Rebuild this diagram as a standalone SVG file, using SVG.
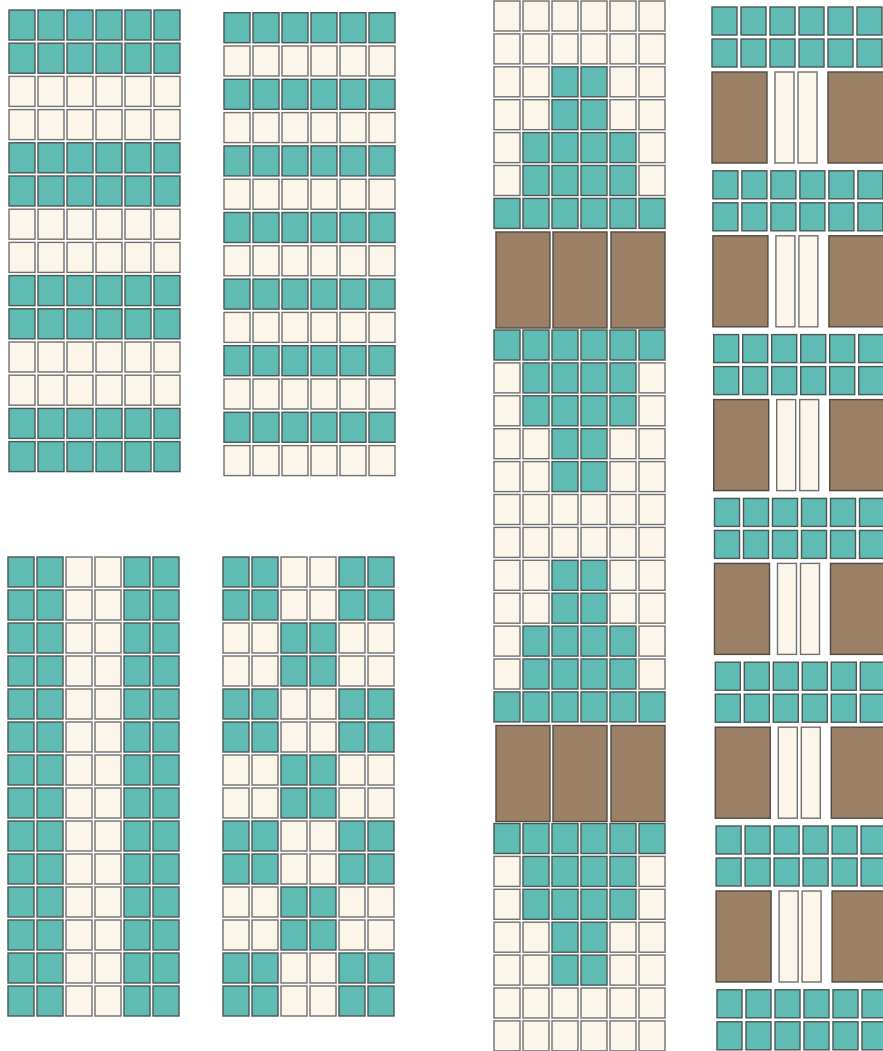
<svg xmlns="http://www.w3.org/2000/svg" xmlns:xlink="http://www.w3.org/1999/xlink" width="883" height="1051" viewBox="0 0 883 1051">
<style>
.t{fill:#5fbbb4;stroke:#4a5755;stroke-width:1.4}
.c{fill:#fcf6ea;stroke:#707070;stroke-width:1.4}
.b{fill:#9b8066;stroke:#4f4a44;stroke-width:1.4}
</style>
<defs>
<g id="T"><rect class="t" x="0" y="0" width="26" height="30"/><rect class="t" x="29" y="0" width="26" height="30"/><rect class="t" x="58" y="0" width="26" height="30"/><rect class="t" x="87" y="0" width="26" height="30"/><rect class="t" x="116" y="0" width="26" height="30"/><rect class="t" x="145" y="0" width="26" height="30"/></g>
<g id="C"><rect class="c" x="0" y="0" width="26" height="30"/><rect class="c" x="29" y="0" width="26" height="30"/><rect class="c" x="58" y="0" width="26" height="30"/><rect class="c" x="87" y="0" width="26" height="30"/><rect class="c" x="116" y="0" width="26" height="30"/><rect class="c" x="145" y="0" width="26" height="30"/></g>
<g id="A"><rect class="t" x="0" y="0" width="26" height="30"/><rect class="t" x="29" y="0" width="26" height="30"/><rect class="c" x="58" y="0" width="26" height="30"/><rect class="c" x="87" y="0" width="26" height="30"/><rect class="t" x="116" y="0" width="26" height="30"/><rect class="t" x="145" y="0" width="26" height="30"/></g>
<g id="B"><rect class="c" x="0" y="0" width="26" height="30"/><rect class="c" x="29" y="0" width="26" height="30"/><rect class="t" x="58" y="0" width="26" height="30"/><rect class="t" x="87" y="0" width="26" height="30"/><rect class="c" x="116" y="0" width="26" height="30"/><rect class="c" x="145" y="0" width="26" height="30"/></g>
<g id="D"><rect class="c" x="0" y="0" width="26" height="30"/><rect class="t" x="29" y="0" width="26" height="30"/><rect class="t" x="58" y="0" width="26" height="30"/><rect class="t" x="87" y="0" width="26" height="30"/><rect class="t" x="116" y="0" width="26" height="30"/><rect class="c" x="145" y="0" width="26" height="30"/></g>
<g id="K5"><rect class="b" x="2" y="0" width="54" height="96"/><rect class="b" x="59" y="0" width="54" height="96"/><rect class="b" x="117" y="0" width="54" height="96"/></g>
<g id="T6"><rect class="t" x="0" y="0" width="25" height="28"/><rect class="t" x="29" y="0" width="25" height="28"/><rect class="t" x="58" y="0" width="25" height="28"/><rect class="t" x="87" y="0" width="25" height="28"/><rect class="t" x="116" y="0" width="25" height="28"/><rect class="t" x="145" y="0" width="25" height="28"/></g>
<g id="K6"><rect class="b" x="0" y="0" width="55" height="91"/><rect class="c" x="63" y="0" width="19" height="91"/><rect class="c" x="86" y="0" width="19" height="91"/><rect class="b" x="116" y="0" width="60" height="91"/></g>
</defs>

<g id="panel1">
<use href="#T" x="9" y="10"/><use href="#T" x="9" y="43.2"/><use href="#C" x="9" y="76.4"/><use href="#C" x="9" y="109.6"/>
<use href="#T" x="9" y="142.8"/><use href="#T" x="9" y="176"/><use href="#C" x="9" y="209.2"/><use href="#C" x="9" y="242.4"/>
<use href="#T" x="9" y="275.6"/><use href="#T" x="9" y="308.8"/><use href="#C" x="9" y="342"/><use href="#C" x="9" y="375.2"/>
<use href="#T" x="9" y="408.4"/><use href="#T" x="9" y="441.6"/>
</g>

<g id="panel2">
<use href="#T" x="224" y="12.7"/><use href="#C" x="224" y="46"/><use href="#T" x="224" y="79.3"/><use href="#C" x="224" y="112.6"/>
<use href="#T" x="224" y="145.9"/><use href="#C" x="224" y="179.2"/><use href="#T" x="224" y="212.5"/><use href="#C" x="224" y="245.8"/>
<use href="#T" x="224" y="279.1"/><use href="#C" x="224" y="312.4"/><use href="#T" x="224" y="345.7"/><use href="#C" x="224" y="379"/>
<use href="#T" x="224" y="412.3"/><use href="#C" x="224" y="445.6"/>
</g>

<g id="panel3">
<use href="#A" x="8" y="557"/><use href="#A" x="8" y="590"/><use href="#A" x="8" y="623"/><use href="#A" x="8" y="656"/>
<use href="#A" x="8" y="689"/><use href="#A" x="8" y="722"/><use href="#A" x="8" y="755"/><use href="#A" x="8" y="788"/>
<use href="#A" x="8" y="821"/><use href="#A" x="8" y="854"/><use href="#A" x="8" y="887"/><use href="#A" x="8" y="920"/>
<use href="#A" x="8" y="953"/><use href="#A" x="8" y="986"/>
</g>

<g id="panel4">
<use href="#A" x="223" y="557"/><use href="#A" x="223" y="590"/><use href="#B" x="223" y="623"/><use href="#B" x="223" y="656"/>
<use href="#A" x="223" y="689"/><use href="#A" x="223" y="722"/><use href="#B" x="223" y="755"/><use href="#B" x="223" y="788"/>
<use href="#A" x="223" y="821"/><use href="#A" x="223" y="854"/><use href="#B" x="223" y="887"/><use href="#B" x="223" y="920"/>
<use href="#A" x="223" y="953"/><use href="#A" x="223" y="986"/>
</g>

<g id="panel5">
<use href="#C" x="494" y="1"/><use href="#C" x="494" y="33.9"/><use href="#B" x="494" y="66.8"/><use href="#B" x="494" y="99.7"/>
<use href="#D" x="494" y="132.6"/><use href="#D" x="494" y="165.5"/><use href="#T" x="494" y="198.4"/>
<use href="#K5" x="494" y="232"/>
<use href="#T" x="494" y="330"/><use href="#D" x="494" y="362.9"/><use href="#D" x="494" y="395.8"/><use href="#B" x="494" y="428.7"/>
<use href="#B" x="494" y="461.6"/><use href="#C" x="494" y="494.5"/><use href="#C" x="494" y="527.4"/><use href="#B" x="494" y="560.3"/>
<use href="#B" x="494" y="593.2"/><use href="#D" x="494" y="626.1"/><use href="#D" x="494" y="659"/><use href="#T" x="494" y="691.9"/>
<use href="#K5" x="494" y="725.5"/>
<use href="#T" x="494" y="823.5"/><use href="#D" x="494" y="856.4"/><use href="#D" x="494" y="889.3"/><use href="#B" x="494" y="922.2"/>
<use href="#B" x="494" y="955.1"/><use href="#C" x="494" y="988"/><use href="#C" x="494" y="1020.9"/>
</g>

<g id="panel6">
<use href="#T6" x="712" y="7"/><use href="#T6" x="712" y="39"/><use href="#K6" x="712" y="72"/>
<use href="#T6" x="712.9" y="170.8"/><use href="#T6" x="712.9" y="202.8"/><use href="#K6" x="712.9" y="235.8"/>
<use href="#T6" x="713.7" y="334.6"/><use href="#T6" x="713.7" y="366.6"/><use href="#K6" x="713.7" y="399.6"/>
<use href="#T6" x="714.5" y="498.4"/><use href="#T6" x="714.5" y="530.4"/><use href="#K6" x="714.5" y="563.4"/>
<use href="#T6" x="715.3" y="662.2"/><use href="#T6" x="715.3" y="694.2"/><use href="#K6" x="715.3" y="727.2"/>
<use href="#T6" x="716.1" y="826"/><use href="#T6" x="716.1" y="858"/><use href="#K6" x="716.1" y="891"/>
<use href="#T6" x="717" y="989.8"/><use href="#T6" x="717" y="1021.8"/>
</g>
</svg>
